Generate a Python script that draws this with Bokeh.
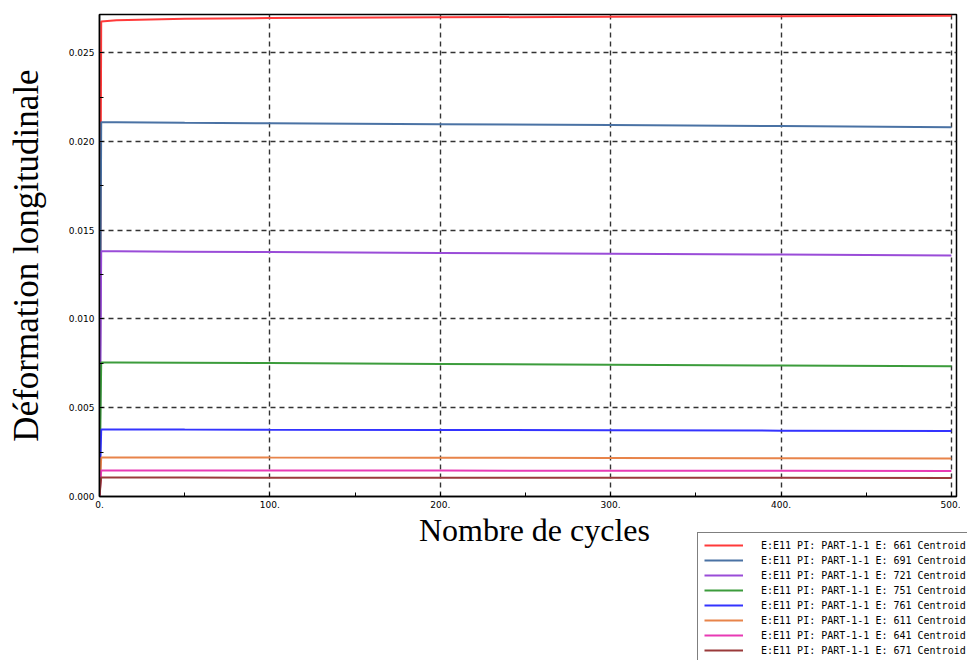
from bokeh.plotting import figure
from bokeh.layouts import column
from bokeh.models import Range1d, FixedTicker, PrintfTickFormatter, Legend, LegendItem, Label
from bokeh.embed import file_html
from bokeh.resources import INLINE

# ---- data ----
cycles = [0, 1, 10, 50, 100, 200, 300, 400, 500]

e661 = [0.0, 0.02675, 0.02682, 0.02691, 0.02695, 0.02699, 0.02702, 0.02705, 0.02708]
e691 = [0.0, 0.02108, 0.02108, 0.02105, 0.02102, 0.02097, 0.02092, 0.02087, 0.02080]
e721 = [0.0, 0.01381, 0.01381, 0.01379, 0.01377, 0.01372, 0.01367, 0.01363, 0.01358]
e751 = [0.0, 0.00755, 0.00755, 0.00754, 0.00752, 0.00747, 0.00742, 0.00738, 0.00733]
e761 = [0.0, 0.00378, 0.00378, 0.00377, 0.00376, 0.00375, 0.00373, 0.00371, 0.00369]
e611 = [0.0, 0.00220, 0.00220, 0.00220, 0.00219, 0.00218, 0.00217, 0.00215, 0.00214]
e641 = [0.0, 0.00147, 0.00147, 0.00147, 0.00146, 0.00146, 0.00145, 0.00145, 0.00144]
e671 = [0.0, 0.00107, 0.00107, 0.00107, 0.00106, 0.00106, 0.00105, 0.00105, 0.00104]

series = [e661, e691, e721, e751, e761, e611, e641, e671]
labels = [
    "E:E11 PI: PART-1-1 E: 661 Centroid",
    "E:E11 PI: PART-1-1 E: 691 Centroid",
    "E:E11 PI: PART-1-1 E: 721 Centroid",
    "E:E11 PI: PART-1-1 E: 751 Centroid",
    "E:E11 PI: PART-1-1 E: 761 Centroid",
    "E:E11 PI: PART-1-1 E: 611 Centroid",
    "E:E11 PI: PART-1-1 E: 641 Centroid",
    "E:E11 PI: PART-1-1 E: 671 Centroid",
]
colors = ["#ff3a3a", "#4a72a4", "#9a4cd8", "#3c9c3c", "#3434ff", "#e8844a", "#e83ab4", "#9a3a3a"]

x_ticks = [0, 100, 200, 300, 400, 500]
x_minor = [50, 150, 250, 350, 450]
y_ticks = [0.0, 0.005, 0.010, 0.015, 0.020, 0.025]
y_minor = [0.0025, 0.0075, 0.0125, 0.0175, 0.0225]
x_title = "Nombre de cycles"
y_title = "Déformation longitudinale"

# ---------------- main chart ----------------
p = figure(width=960, height=512, output_backend="svg", toolbar_location=None,
           x_range=Range1d(0, 503), y_range=Range1d(0, 0.02715),
           frame_width=857, frame_height=482,
           min_border_left=99, min_border_top=14, min_border_right=4, min_border_bottom=16)
p.frame_align = False
p.background_fill_color = "white"
p.border_fill_color = "white"
p.outline_line_color = "black"
p.outline_line_width = 1.5

for s, c in zip(series, colors):
    p.line(cycles, s, line_color=c, line_width=2)

p.xgrid.ticker = FixedTicker(ticks=x_ticks)
p.ygrid.ticker = FixedTicker(ticks=y_ticks)
for g in (p.xgrid, p.ygrid):
    g.grid_line_color = "#333333"
    g.grid_line_dash = "5 4"
    g.grid_line_width = 1.4

p.xaxis.ticker = FixedTicker(ticks=x_ticks, minor_ticks=x_minor)
p.yaxis.ticker = FixedTicker(ticks=y_ticks, minor_ticks=y_minor)
p.xaxis.formatter = PrintfTickFormatter(format="%d.")
p.yaxis.formatter = PrintfTickFormatter(format="%.3f")
for ax in (p.xaxis, p.yaxis):
    ax.axis_line_color = "black"
    ax.axis_line_width = 1.5
    ax.major_tick_in = 4
    ax.major_tick_out = 0
    ax.minor_tick_in = 4
    ax.minor_tick_out = 0
    ax.major_tick_line_color = "black"
    ax.minor_tick_line_color = "black"
    ax.major_label_text_font = "DejaVu Sans"
    ax.major_label_text_font_size = "9px"
    ax.major_label_text_color = "black"
    ax.axis_label_text_font = "Liberation Serif"
    ax.axis_label_text_font_style = "normal"
    ax.axis_label_text_color = "black"

p.xaxis.major_label_standoff = 4
p.yaxis.axis_label = y_title
p.yaxis.axis_label_text_font_size = "35px"
p.yaxis.axis_label_standoff = 20
p.yaxis.major_label_standoff = 5

# ---------------- strip below: x title + legend ----------------
q = figure(width=967, height=148, output_backend="svg", toolbar_location=None,
           x_range=Range1d(2000, 2001), y_range=Range1d(5, 6),
           x_axis_type=None, y_axis_type=None,
           min_border_left=0, min_border_right=0, min_border_top=0, min_border_bottom=0)
q.frame_align = False
q.outline_line_color = None
q.xgrid.visible = False
q.ygrid.visible = False
q.background_fill_color = "white"
q.border_fill_color = "white"

legend_renderers = [q.line(cycles, s, line_color=c, line_width=2) for s, c in zip(series, colors)]

q.add_layout(Label(x=534, y=131, x_units="screen", y_units="screen", text=x_title,
                   text_font="Liberation Serif", text_font_size="32px", text_color="black",
                   text_align="center", text_baseline="middle"))

items = [LegendItem(label=l, renderers=[r]) for l, r in zip(labels, legend_renderers)]
legend = Legend(items=items, location=(697, -3))
legend.border_line_color = "black"
legend.border_line_width = 1.2
legend.background_fill_color = "white"
legend.background_fill_alpha = 1.0
legend.label_text_font = "DejaVu Sans Mono"
legend.label_text_font_size = "10px"
legend.label_text_color = "black"
legend.glyph_width = 39
legend.glyph_height = 12
legend.label_height = 12
legend.spacing = 3
legend.padding = 6
legend.margin = 0
legend.label_standoff = 18
q.add_layout(legend)

layout = column(p, q, spacing=0)
open("out.html", "w").write(file_html(layout, INLINE))
